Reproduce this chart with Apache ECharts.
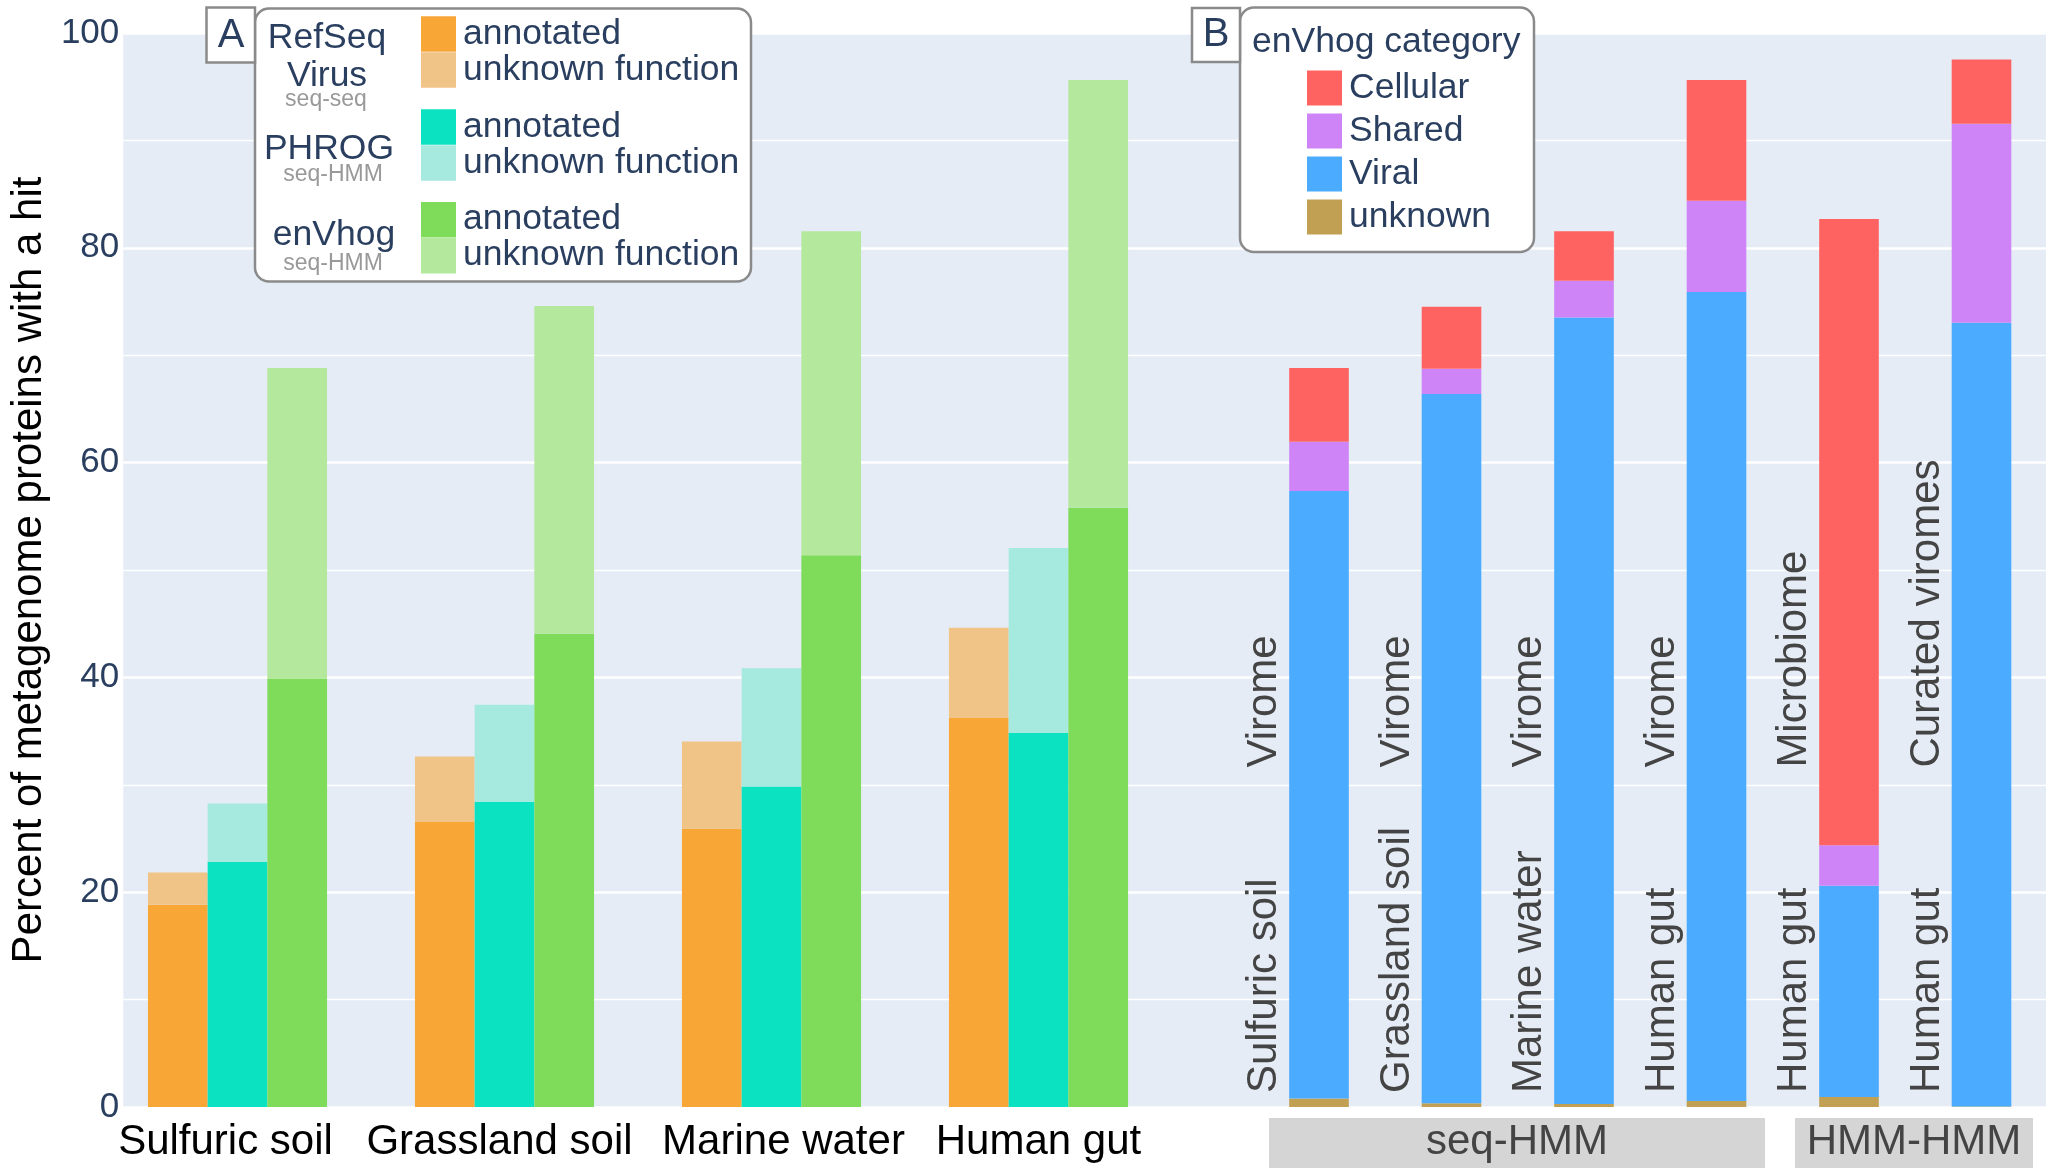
<!DOCTYPE html>
<html>
<head>
<meta charset="utf-8">
<script src="https://cdn.jsdelivr.net/npm/echarts@6/dist/echarts.min.js"></script>
<style>
html,body{margin:0;padding:0;background:#ffffff;}
#chart{width:2048px;height:1172px;}
</style>
</head>
<body>
<div id="chart"></div>
<script>
// ---------- Panel A data ----------
const sites = ['Sulfuric soil', 'Grassland soil', 'Marine water', 'Human gut'];
const refseqAnnotated = [18.84, 26.54, 25.94, 36.22];
const refseqUnknown   = [3.00, 6.09, 8.09, 8.41];
const phrogAnnotated  = [22.83, 28.40, 29.84, 34.83];
const phrogUnknown    = [5.42, 9.06, 11.01, 17.23];
const envhogAnnotated = [39.90, 44.07, 51.38, 55.80];
const envhogUnknown   = [28.90, 30.50, 30.17, 39.83];

// ---------- Panel B data ----------
const bSites   = ['Sulfuric soil', 'Grassland soil', 'Marine water', 'Human gut', 'Human gut', 'Human gut'];
const bTypes   = ['Virome', 'Virome', 'Virome', 'Virome', 'Microbiome', 'Curated viromes'];
const bMethods = ['seq-HMM', 'seq-HMM', 'seq-HMM', 'seq-HMM', 'HMM-HMM', 'HMM-HMM'];
const catUnknown  = [0.80, 0.36, 0.28, 0.56, 0.94, 0.05];
const catViral    = [56.56, 66.03, 73.24, 75.32, 19.66, 72.96];
const catShared   = [4.57, 2.35, 3.41, 8.49, 3.78, 18.54];
const catCellular = [6.87, 5.77, 4.62, 11.26, 58.29, 5.99];

// ---------- axis ----------
const yTicks = [0, 20, 40, 60, 80, 100];
const yTitle = 'Percent of metagenome proteins with a hit';

const FONT = '"Liberation Sans", Arial, sans-serif';
const TXT = '#2a3f5f';

const chart = echarts.init(document.getElementById('chart'), null, {renderer: 'canvas'});

function barA(name, stack, data, color) {
  return {
    type: 'bar', name: name, stack: stack, data: data,
    xAxisIndex: 1, yAxisIndex: 1,
    barWidth: '22.36%', barGap: '0%',
    itemStyle: {color: color},
    emphasis: {disabled: true}
  };
}
function barB(name, data, color) {
  return {
    type: 'bar', name: name, stack: 'cat', data: data,
    xAxisIndex: 2, yAxisIndex: 2,
    barWidth: '45%',
    itemStyle: {color: color},
    emphasis: {disabled: true}
  };
}

const legendText = {fontSize: 35.5, color: TXT, fontFamily: FONT, lineHeight: 16, padding: [19, 0, 0, 2]};
function legendA(top, group) {
  return {
    left: 421, top: top, orient: 'vertical', padding: 0,
    itemWidth: 35, itemHeight: 35.5, itemGap: 0, icon: 'rect',
    data: [group + '|annotated', group + '|unknown function'],
    formatter: n => n.split('|')[1],
    textStyle: legendText, selectedMode: false, z: 20
  };
}

const xLabelStyle = {fontSize: 42, color: '#000', fontFamily: FONT};
const xLabelRich = {
  l0: Object.assign({padding: [0, 24, 0, 0]}, xLabelStyle),
  l1: Object.assign({padding: [0, 10, 0, 0]}, xLabelStyle),
  l2: Object.assign({padding: [0, 0, 0, 24]}, xLabelStyle),
  l3: Object.assign({padding: [0, 0, 0, 0]}, xLabelStyle)
};

const option = {
  animation: false,
  backgroundColor: '#ffffff',
  grid: [
    {left: 108, right: 2, top: 33, bottom: 65, show: true, backgroundColor: '#E5ECF6', borderWidth: 0},
    {left: 104, width: 1068, top: 33, bottom: 65},
    {left: 1252.75, width: 795, top: 33, bottom: 65}
  ],
  xAxis: [
    {gridIndex: 0, type: 'value', min: 0, max: 1, show: false},
    {gridIndex: 1, type: 'category', data: sites,
     axisLine: {show: false}, axisTick: {show: false},
     axisLabel: {interval: 0, fontSize: 42, color: '#000', fontFamily: FONT, margin: 14,
                 formatter: (v, i) => '{l' + i + '|' + v + '}', rich: xLabelRich}},
    {gridIndex: 2, type: 'category', data: bSites.map((s, i) => s + ' ' + bTypes[i]), show: false}
  ],
  yAxis: [
    {gridIndex: 0, type: 'value', min: yTicks[0], max: yTicks[yTicks.length - 1], interval: yTicks[1] - yTicks[0],
     axisLine: {show: false}, axisTick: {show: false},
     axisLabel: {fontSize: 35, color: TXT, fontFamily: FONT, margin: 4},
     splitLine: {show: true, lineStyle: {color: '#ffffff', width: 2.6}},
     minorTick: {show: false, splitNumber: 2},
     minorSplitLine: {show: true, lineStyle: {color: '#ffffff', width: 1.3}},
     name: yTitle, nameLocation: 'middle', nameRotate: 90, nameGap: 70,
     nameTextStyle: {fontSize: 42, color: '#000', fontFamily: FONT}},
    {gridIndex: 1, type: 'value', min: 0, max: 100, show: false},
    {gridIndex: 2, type: 'value', min: 0, max: 100, show: false}
  ],
  legend: [
    legendA(16, 'RefSeq Virus'),
    legendA(109, 'PHROG'),
    legendA(201.7, 'enVhog'),
    {left: 1307, top: 70, orient: 'vertical', padding: 0,
     itemWidth: 35, itemHeight: 35, itemGap: 7, icon: 'rect',
     data: ['Cellular', 'Shared', 'Viral', 'unknown'],
     textStyle: legendText, selectedMode: false, z: 20}
  ],
  graphic: [
    // Panel A legend box
    {type: 'rect', z: 10, shape: {x: 255, y: 8.5, width: 496, height: 273, r: 14},
     style: {fill: '#ffffff', stroke: '#8a8a8a', lineWidth: 2.5}},
    {type: 'rect', z: 11, shape: {x: 206.5, y: 7.5, width: 48.5, height: 55},
     style: {fill: '#ffffff', stroke: '#8a8a8a', lineWidth: 2.5}},
    {type: 'text', z: 12, x: 231, y: 36, style: {text: 'A', font: '40px ' + FONT, fill: TXT, align: 'center', verticalAlign: 'middle'}},
    {type: 'text', z: 12, x: 327, y: 38, style: {text: 'RefSeq', font: '35.5px ' + FONT, fill: TXT, align: 'center', verticalAlign: 'middle'}},
    {type: 'text', z: 12, x: 327, y: 76, style: {text: 'Virus', font: '35.5px ' + FONT, fill: TXT, align: 'center', verticalAlign: 'middle'}},
    {type: 'text', z: 12, x: 326, y: 100, style: {text: 'seq-seq', font: '23px ' + FONT, fill: '#999999', align: 'center', verticalAlign: 'middle'}},
    {type: 'text', z: 12, x: 329, y: 149, style: {text: 'PHROG', font: '35.5px ' + FONT, fill: TXT, align: 'center', verticalAlign: 'middle'}},
    {type: 'text', z: 12, x: 333, y: 175, style: {text: 'seq-HMM', font: '23px ' + FONT, fill: '#999999', align: 'center', verticalAlign: 'middle'}},
    {type: 'text', z: 12, x: 334, y: 235, style: {text: 'enVhog', font: '35.5px ' + FONT, fill: TXT, align: 'center', verticalAlign: 'middle'}},
    {type: 'text', z: 12, x: 333, y: 264, style: {text: 'seq-HMM', font: '23px ' + FONT, fill: '#999999', align: 'center', verticalAlign: 'middle'}},
    // Panel B legend box
    {type: 'rect', z: 10, shape: {x: 1240, y: 7.5, width: 294, height: 244.5, r: 14},
     style: {fill: '#ffffff', stroke: '#8a8a8a', lineWidth: 2.5}},
    {type: 'rect', z: 11, shape: {x: 1192, y: 8, width: 48, height: 54},
     style: {fill: '#ffffff', stroke: '#8a8a8a', lineWidth: 2.5}},
    {type: 'text', z: 12, x: 1216, y: 35, style: {text: 'B', font: '40px ' + FONT, fill: TXT, align: 'center', verticalAlign: 'middle'}},
    {type: 'text', z: 12, x: 1252, y: 42, style: {text: 'enVhog category', font: '35.5px ' + FONT, fill: TXT, align: 'left', verticalAlign: 'middle'}},
    // method group boxes under panel B
    {type: 'rect', z: 5, shape: {x: 1269, y: 1118, width: 496, height: 50}, style: {fill: '#D5D5D5'}},
    {type: 'text', z: 6, x: 1517, y: 1142, style: {text: bMethods[0], font: '42px ' + FONT, fill: '#444444', align: 'center', verticalAlign: 'middle'}},
    {type: 'rect', z: 5, shape: {x: 1795, y: 1118, width: 238, height: 50}, style: {fill: '#D5D5D5'}},
    {type: 'text', z: 6, x: 1914, y: 1142, style: {text: bMethods[4], font: '42px ' + FONT, fill: '#444444', align: 'center', verticalAlign: 'middle'}}
  ],
  series: [
    barA('RefSeq Virus|annotated', 'refseq', refseqAnnotated, '#F8A636'),
    barA('RefSeq Virus|unknown function', 'refseq', refseqUnknown, '#F0C387'),
    barA('PHROG|annotated', 'phrog', phrogAnnotated, '#0BE2C2'),
    barA('PHROG|unknown function', 'phrog', phrogUnknown, '#A6E9DF'),
    barA('enVhog|annotated', 'envhog', envhogAnnotated, '#7FDB5A'),
    barA('enVhog|unknown function', 'envhog', envhogUnknown, '#B4E89C'),
    barB('unknown', catUnknown, '#C2A053'),
    barB('Viral', catViral, '#4AABFF'),
    barB('Shared', catShared, '#CE84F6'),
    barB('Cellular', catCellular, '#FF6361'),
    {
      type: 'custom', xAxisIndex: 2, yAxisIndex: 2, silent: true, z: 6,
      data: bSites.map((s, i) => [i, 0]),
      renderItem: function (params, api) {
        const i = params.dataIndex;
        const band = api.size([1, 0])[0];
        const base = api.coord([api.value(0), 0]);
        const x = base[0] - band * 0.225 - 24.5;
        const yBottom = api.coord([api.value(0), 1.3])[1];
        const yTop = api.coord([api.value(0), 31.6])[1];
        const st = t => ({text: t, font: '42px ' + FONT, fill: '#444444', align: 'left', verticalAlign: 'middle'});
        return {
          type: 'group',
          children: [
            {type: 'text', x: x, y: yBottom, rotation: Math.PI / 2, style: st(bSites[i])},
            {type: 'text', x: x, y: yTop, rotation: Math.PI / 2, style: st(bTypes[i])}
          ]
        };
      }
    }
  ]
};
chart.setOption(option);
</script>
</body>
</html>
